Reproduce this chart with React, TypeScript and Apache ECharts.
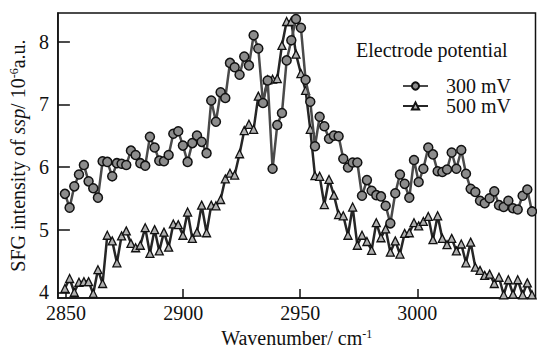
import React, { useEffect, useRef } from "react";
import * as echarts from "echarts";

const wavenumbers = [
  2849.5, 2851.5, 2853.5, 2855.5, 2857.6, 2859.6, 2861.6, 2863.6, 2865.6, 2867.6,
  2869.7, 2871.7, 2873.7, 2875.7, 2877.7, 2879.7, 2881.7, 2883.8, 2885.8, 2887.8,
  2889.8, 2891.8, 2893.8, 2895.8, 2897.9, 2899.9, 2901.9, 2903.9, 2905.9, 2907.9,
  2910.0, 2912.0, 2914.0, 2916.0, 2918.0, 2920.0, 2922.0, 2924.1, 2926.1, 2928.1,
  2930.1, 2932.1, 2934.1, 2936.1, 2938.2, 2940.2, 2942.2, 2944.2, 2946.2, 2948.2,
  2950.3, 2952.3, 2954.3, 2956.3, 2958.3, 2960.3, 2962.3, 2964.4, 2966.4, 2968.4,
  2970.4, 2972.4, 2974.4, 2976.4, 2978.5, 2980.5, 2982.5, 2984.5, 2986.5, 2988.5,
  2990.6, 2992.6, 2994.6, 2996.6, 2998.6, 3000.6, 3002.6, 3004.7, 3006.7, 3008.7,
  3010.7, 3012.7, 3014.7, 3016.7, 3018.8, 3020.8, 3022.8, 3024.8, 3026.8, 3028.8,
  3030.9, 3032.9, 3034.9, 3036.9, 3038.9, 3040.9, 3042.9, 3045.0, 3047.0, 3049.0,
];

const sfg300 = [
  5.57, 5.35, 5.69, 5.88, 6.03, 5.77, 5.66, 5.51, 6.09, 6.08,
  5.85, 6.06, 6.05, 6.03, 6.26, 6.19, 6.06, 6.02, 6.48, 6.31,
  6.10, 6.09, 6.19, 6.53, 6.57, 6.34, 6.08, 6.38, 6.50, 6.40,
  6.22, 7.06, 6.72, 7.19, 7.10, 7.66, 7.59, 7.47, 7.76, 7.62,
  8.10, 7.89, 7.02, 7.38, 5.97, 6.67, 6.86, 7.70, 8.02, 8.36,
  8.22, 7.39, 7.04, 6.33, 6.80, 6.65, 6.45, 6.50, 6.49, 6.13,
  5.99, 6.07, 6.07, 5.54, 5.79, 5.62, 5.55, 5.53, 5.38, 5.10,
  5.58, 5.88, 5.73, 5.51, 6.11, 5.76, 5.97, 6.31, 6.20, 5.93,
  5.92, 5.96, 6.23, 5.97, 6.27, 5.89, 5.65, 5.60, 5.46, 5.42,
  5.50, 5.61, 5.39, 5.36, 5.46, 5.34, 5.32, 5.54, 5.64, 5.29,
];

const sfg500 = [
  4.06, 4.22, 4.00, 4.16, 4.17, 4.17, 3.98, 4.36, 4.14, 4.91,
  4.82, 4.47, 4.90, 4.98, 4.78, 4.71, 4.75, 5.03, 4.62, 5.00,
  4.66, 4.96, 4.72, 5.09, 5.08, 4.91, 5.28, 4.86, 4.96, 5.39,
  4.95, 5.39, 5.38, 5.48, 5.81, 5.90, 5.87, 6.21, 6.58, 6.68,
  6.60, 7.13, 7.05, 7.39, 7.40, 7.41, 7.94, 8.32, 8.32, 7.80,
  7.49, 7.22, 6.60, 5.86, 5.85, 5.40, 5.80, 5.55, 5.24, 5.22,
  4.91, 5.36, 4.75, 4.91, 4.81, 4.67, 5.11, 4.87, 5.01, 4.64,
  4.82, 4.61, 4.94, 4.95, 5.11, 5.06, 5.13, 5.21, 4.84, 5.22,
  4.86, 4.76, 4.86, 4.66, 4.77, 4.47, 4.80, 4.40, 4.35, 4.27,
  4.29, 4.14, 4.24, 3.96, 4.20, 3.97, 4.20, 3.96, 4.15, 3.96,
];

const xTicks = [2850, 2900, 2950, 3000];
const yTicks = [4, 5, 6, 7, 8];
const seriesNames = ["300 mV", "500 mV"];

const FONT = "'Liberation Serif', 'Times New Roman', serif";

export default function App() {
  const ref = useRef<HTMLDivElement>(null);

  useEffect(() => {
    if (!ref.current) return;
    const chart = echarts.init(ref.current, undefined, { renderer: "svg" });
    const pairs = (ys: number[]) => wavenumbers.map((x, i) => [x, ys[i]]);

    chart.setOption({
      animation: false,
      backgroundColor: "#ffffff",
      title: {
        text: "Electrode potential",
        left: 351,
        top: 35,
        textStyle: { fontFamily: FONT, fontSize: 20, fontWeight: "normal", color: "#111" },
      },
      legend: {
        data: seriesNames,
        orient: "vertical",
        left: 397,
        top: 71,
        itemWidth: 25,
        itemHeight: 9,
        itemGap: 0,
        textStyle: {
          fontFamily: FONT,
          fontSize: 20,
          color: "#111",
          lineHeight: 18,
          padding: [0, 0, 0, 13],
        },
      },
      grid: {
        left: 54,
        top: 13,
        right: 1.5,
        bottom: 48,
        show: true,
        borderColor: "#111",
        borderWidth: 1.5,
      },
      xAxis: {
        type: "value",
        min: 2846.5,
        max: 3050.5,
        axisLine: { show: true, lineStyle: { color: "#111", width: 1.5 } },
        axisTick: {
          show: true,
          inside: true,
          length: 9,
          customValues: xTicks,
          lineStyle: { color: "#111", width: 1.5 },
        },
        axisLabel: {
          customValues: xTicks,
          formatter: (v: number) => String(v),
          fontFamily: FONT,
          fontSize: 20,
          color: "#111",
          margin: 5,
        },
        splitLine: { show: false },
        name: "{a|Wavenumber/ cm}{s|-1}",
        nameLocation: "middle",
        nameGap: 24,
        nameTextStyle: {
          rich: {
            a: { fontFamily: FONT, fontSize: 20, color: "#111", lineHeight: 20 },
            s: { fontFamily: FONT, fontSize: 12, color: "#111", lineHeight: 12, verticalAlign: "top" },
          },
        },
      },
      yAxis: {
        type: "value",
        min: 3.907,
        max: 8.456,
        axisLine: { show: true, lineStyle: { color: "#111", width: 1.5 } },
        axisTick: {
          show: true,
          inside: true,
          length: 12,
          customValues: yTicks,
          lineStyle: { color: "#111", width: 1.5 },
        },
        axisLabel: {
          customValues: yTicks,
          formatter: (v: number) => String(v),
          fontFamily: FONT,
          fontSize: 20,
          color: "#111",
          margin: 9,
        },
        splitLine: { show: false },
        name: "{a|SFG intensity of }{i|ssp}{a|/ 10}{s|-6}{a|a.u.}",
        nameLocation: "middle",
        nameRotate: 90,
        nameGap: 27,
        nameTextStyle: {
          rich: {
            a: { fontFamily: FONT, fontSize: 20, color: "#111", lineHeight: 20 },
            i: { fontFamily: FONT, fontSize: 20, fontStyle: "italic", color: "#111", lineHeight: 20 },
            s: { fontFamily: FONT, fontSize: 12, color: "#111", lineHeight: 12, verticalAlign: "top" },
          },
        },
      },
      series: [
        {
          name: "500 mV",
          type: "line",
          data: pairs(sfg500),
          symbol: "triangle",
          symbolSize: 8,
          lineStyle: { color: "#262626", width: 2.5 },
          itemStyle: { color: "#b0b0b0", borderColor: "#111", borderWidth: 1.3 },
          z: 2,
        },
        {
          name: "300 mV",
          type: "line",
          data: pairs(sfg300),
          symbol: "circle",
          symbolSize: 9,
          lineStyle: { color: "#4a4a4a", width: 2.5 },
          itemStyle: { color: "#8c8c8c", borderColor: "#111", borderWidth: 1.5 },
          z: 3,
        },
      ],
    });

    return () => chart.dispose();
  }, []);

  return (
    <div
      ref={ref}
      style={{ position: "absolute", left: 0, top: 0, width: 537, height: 353 }}
    />
  );
}
